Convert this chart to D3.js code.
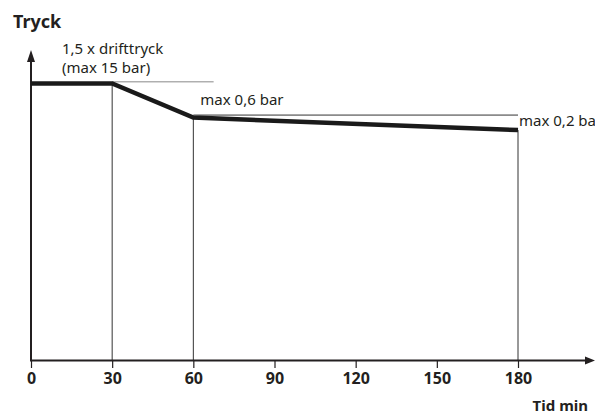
<!DOCTYPE html>
<html>
<head>
<meta charset="utf-8">
<script src="https://cdn.jsdelivr.net/npm/d3@7"></script>
<style>
  body { margin: 0; background: #fff; overflow: hidden; }
  svg { display: block; font-family: "Noto Sans", "Open Sans", sans-serif; }
</style>
</head>
<body>
<svg width="595" height="412"></svg>
<script>
var svg = d3.select("svg"),
    width = +svg.attr("width"),
    height = +svg.attr("height");

// test sequence: time (min) and relative pressure
var times = [0, 30, 60, 180];
var pressure = [10, 10, 8.77, 8.32];
var tickValues = [0, 30, 60, 90, 120, 150, 180];

// thin guide lines
var guideFrom = [30, 60];
var guideTo = [67.5, 180];
var guideLevel = [10.06, 8.86];
var guideColor = ["#888", "#333"];

var labelText = ["1,5 x drifttryck", "(max 15 bar)", "max 0,6 bar", "max 0,2 bar"];

var x = d3.scaleLinear().domain([0, 180]).range([31, 518]);
var y = d3.scaleLinear().domain([0, 10]).range([360.5, 83.5]);

var ink = "#231f20";

// vertical markers
svg.append("g")
    .selectAll("line")
    .data(times.slice(1))
    .enter().append("line")
    .attr("x1", function (d) { return x(d); })
    .attr("x2", function (d) { return x(d); })
    .attr("y1", function (d, i) { return y(pressure[i + 1]); })
    .attr("y2", y(0))
    .attr("stroke", "#333")
    .attr("stroke-width", 1);

// guide lines
svg.append("g")
    .selectAll("line")
    .data(guideLevel)
    .enter().append("line")
    .attr("x1", function (d, i) { return x(guideFrom[i]); })
    .attr("x2", function (d, i) { return x(guideTo[i]); })
    .attr("y1", function (d) { return y(d); })
    .attr("y2", function (d) { return y(d); })
    .attr("stroke", function (d, i) { return guideColor[i]; })
    .attr("stroke-width", 1);

// axes
var xAxis = svg.append("g")
    .attr("transform", "translate(0," + y(0) + ")")
    .call(d3.axisBottom(x)
        .tickValues(tickValues)
        .tickSize(7.5)
        .tickPadding(5));
xAxis.select(".domain").remove();
xAxis.selectAll(".tick line").attr("stroke", ink).attr("stroke-width", 1.2);
xAxis.selectAll(".tick text")
    .attr("fill", ink)
    .attr("font-family", "'Noto Sans', sans-serif")
    .attr("font-size", 16)
    .attr("font-weight", "bold");

svg.append("line")
    .attr("x1", x(0)).attr("x2", 586)
    .attr("y1", y(0)).attr("y2", y(0))
    .attr("stroke", ink).attr("stroke-width", 2);
svg.append("path")
    .attr("d", "M595," + y(0) + "L585," + (y(0) - 4) + "L585," + (y(0) + 4) + "Z")
    .attr("fill", ink);

svg.append("line")
    .attr("x1", x(0)).attr("x2", x(0))
    .attr("y1", y(0) + 1).attr("y2", 60)
    .attr("stroke", ink).attr("stroke-width", 2);
svg.append("path")
    .attr("d", "M" + x(0) + ",50L" + (x(0) - 4) + ",62L" + (x(0) + 4) + ",62Z")
    .attr("fill", ink);

// pressure curve
var line = d3.line()
    .x(function (d, i) { return x(times[i]); })
    .y(function (d) { return y(d); });

svg.append("path")
    .datum(pressure)
    .attr("d", line)
    .attr("fill", "none")
    .attr("stroke", "#1a1a1a")
    .attr("stroke-width", 4.5)
    .attr("stroke-linejoin", "miter");

// annotations
svg.append("text")
    .attr("x", 62).attr("y", 54)
    .attr("fill", ink).attr("font-size", 15)
    .text(labelText[0]);
svg.append("text")
    .attr("x", 62).attr("y", 73)
    .attr("fill", ink).attr("font-size", 15)
    .text(labelText[1]);
svg.append("text")
    .attr("x", x(60) + 7).attr("y", y(guideLevel[1]) - 10)
    .attr("fill", ink).attr("font-size", 15)
    .text(labelText[2]);
svg.append("text")
    .attr("x", x(180) + 1).attr("y", y(pressure[3]) - 4)
    .attr("fill", ink).attr("font-size", 15)
    .text(labelText[3]);

svg.append("text")
    .attr("x", 13).attr("y", 28)
    .attr("fill", ink)
    .attr("font-size", 18)
    .attr("font-weight", "bold")
    .text("Tryck");

svg.append("text")
    .attr("x", 588).attr("y", 411)
    .attr("text-anchor", "end")
    .attr("fill", ink)
    .attr("font-size", 15)
    .attr("font-weight", "bold")
    .text("Tid min");
</script>
</body>
</html>
